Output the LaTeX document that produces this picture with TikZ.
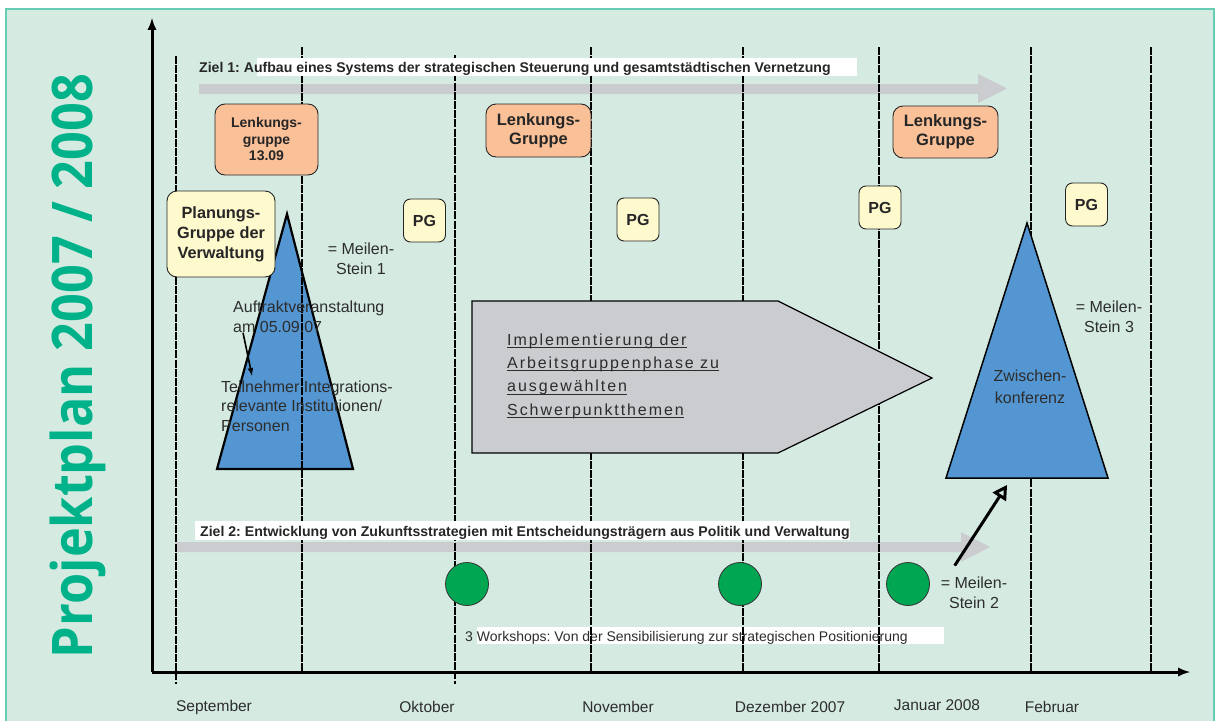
\documentclass[tikz,border=0pt]{standalone}
\usepackage{fontspec}
\setmainfont{Liberation Sans}
\newfontfamily\titelfont{Open Sans}
\newfontfamily\sperrfont[LetterSpace=12]{Liberation Sans}
\usetikzlibrary{positioning,shapes,arrows}

\newcommand\setfs[2]{\fontsize{#1}{#2}\selectfont}
\newcommand\unterstr[1]{\setbox0\hbox{#1}\rlap{\rule[-3pt]{\wd0}{1.2pt}}\box0}

\definecolor{hgfill}{RGB}{213,235,226}
\definecolor{hglinie}{RGB}{100,205,180}
\definecolor{titelgruen}{RGB}{0,178,137}
\definecolor{lenkfill}{RGB}{250,192,152}
\definecolor{pgfill}{RGB}{255,249,206}
\definecolor{dreieck}{RGB}{83,150,210}
\definecolor{zielgrau}{RGB}{203,204,207}
\definecolor{kreisgruen}{RGB}{0,166,81}
\definecolor{txtgrau}{RGB}{45,45,45}

\begin{document}
\frenchspacing
\begin{tikzpicture}[x=1pt,y=-1pt,
  lenk/.style={draw=black!85,line width=0.9,fill=lenkfill,rounded corners=10pt,align=center,text=black!85,inner sep=0pt},
  planbox/.style={draw=black!85,line width=0.9,fill=pgfill,rounded corners=10pt,align=center,text=black!85,inner sep=0pt},
  pgbox/.style={draw=black!85,line width=0.9,fill=pgfill,rounded corners=7pt,minimum width=42pt,minimum height=43pt,inner sep=0pt,text=black!85,font=\bfseries\setfs{16}{19}},
  monat/.style={line width=2.6,dash pattern=on 8pt off 1.2pt},
  txt/.style={text=txtgrau,inner sep=0pt,font=\setfs{16}{20}},
  ziel/.style={text=black!85,inner sep=0pt,font=\bfseries\setfs{14.1}{16}},
  monatlabel/.style={text=txtgrau,inner sep=0pt,font=\setfs{15.5}{17}},
  kreis/.style={circle,draw=black!80,line width=0.8,fill=kreisgruen,minimum size=43pt,inner sep=0pt}]
\useasboundingbox (0,0) rectangle (1220,720);
\fill[white] (0,0) rectangle (1220,720);
\draw[fill=hgfill,draw=hglinie,line width=1.5] (6,9) rectangle (1214,730);

\node[rotate=90,anchor=base,text=titelgruen,inner sep=0pt,font=\titelfont\bfseries\setfs{56}{60}] (titel) at (92,366) {\scalebox{0.9}[1]{Projektplan 2007 / 2008}};

\fill[zielgrau] (199,84) -- (978,84) -- (978,74) -- (1007,88.5) -- (978,103) -- (978,94) -- (199,94) -- cycle;
\fill[zielgrau] (175,542) -- (961,542) -- (961,532) -- (990,547) -- (961,562) -- (961,552) -- (175,552) -- cycle;

\draw[line width=2.2,fill=dreieck] (287,214) -- (353,469) -- (217,469) -- cycle;

\fill[white] (477,627) rectangle (944,644);
\node[txt,anchor=base west,font=\setfs{14}{17}] (workshops) at (465,641) {3 Workshops: Von der Sensibilisierung zur strategischen Positionierung};

\draw[monat] (176,56) -- (176,684);
\draw[monat] (302,47) -- (302,672);
\draw[monat] (455,55) -- (455,684);
\draw[monat] (591,47) -- (591,672);
\draw[monat,line width=2] (743,47) -- (743,672);
\draw[monat,line width=2] (879,47) -- (879,672);
\draw[monat] (1031,47) -- (1031,672);
\draw[monat] (1151,47) -- (1151,672);

\coordinate (ursprung) at (152,672);
\draw[line width=3,-latex] (ursprung) -- (152,18);
\draw[line width=3,-latex] (ursprung) -- (1190,672);

\fill[white] (257,58) rectangle (857,76);
\node[ziel,anchor=base west] (ziel1) at (199,72) {Ziel 1: Aufbau eines Systems der strategischen Steuerung und gesamtstädtischen Vernetzung};
\fill[white] (195,521) rectangle (850,540);
\node[ziel,anchor=base west] (ziel2) at (200,536) {Ziel 2: Entwicklung von Zukunftsstrategien mit Entscheidungsträgern aus Politik und Verwaltung};

\node[lenk,minimum width=103pt,minimum height=71pt,font=\bfseries\setfs{14}{16.5}] (lenk1) at (266.5,139.5) {Lenkungs-\\gruppe\\13.09};
\node[lenk,minimum width=105pt,minimum height=53pt,font=\bfseries\setfs{16.5}{19}] (lenk2) at (538.5,130.5) {Lenkungs-\\Gruppe};
\node[lenk,minimum width=105pt,minimum height=52pt,font=\bfseries\setfs{16.5}{19}] (lenk3) at (945.5,132) {Lenkungs-\\Gruppe};
\node[planbox,minimum width=108pt,minimum height=86pt,font=\bfseries\setfs{16.3}{20}] (plan) at (221,234) {Planungs-\\Gruppe der\\Verwaltung};

\node[pgbox] (pg1) at (424.5,220.5) {PG};
\node[pgbox] (pg2) at (638,219.5) {PG};
\node[pgbox] (pg3) at (880,207.5) {PG};
\node[pgbox] (pg4) at (1086.5,204.5) {PG};

\draw[line width=1.2,fill=zielgrau] (472,301) -- (778,301) -- (932,378) -- (778,453) -- (472,453) -- cycle;
\node[anchor=west,align=left,inner sep=0pt,text=txtgrau,font=\sperrfont\setfs{16}{23.3}] (impl) at (507,376) {\unterstr{Implementierung der}\\\unterstr{Arbeitsgruppenphase zu}\\\unterstr{ausgewählten}\\\unterstr{Schwerpunktthemen}};

\draw[line width=1.5,fill=dreieck] (1027,223) -- (1108,478) -- (946,478) -- cycle;

\node[kreis] (ws1) at (467,584) {};
\node[kreis] (ws2) at (740,584) {};
\node[kreis] (ws3) at (908,584) {};

\node[txt,align=center] (ms1) at (361,258.4) {= Meilen-\\Stein 1};
\node[txt,align=center] (ms2) at (974,592.7) {= Meilen-\\Stein 2};
\node[txt,align=center] (ms3) at (1109,316.7) {= Meilen-\\Stein 3};
\node[txt,anchor=west,align=left] (auftakt) at (233,316.6) {Auftraktveranstaltung\\am 05.09.07};
\node[txt,anchor=west,align=left,font=\setfs{16}{19.5}] (teiln) at (221,406.2) {Teilnehmer Integrations-\\relevante Institutionen/\\Personen};
\node[txt,align=center,font=\setfs{16}{22}] (zwk) at (1030,386.7) {Zwischen-\\konferenz};

\coordinate (zwkfuss) at (1007,485);
\draw[line width=1.6,-latex] ([shift={(10,0)}]auftakt.south west) -- ([shift={(31,-5)}]teiln.north west);
\draw[line width=3,-open triangle 60] ([shift={(14,-11)}]ms2.north west) -- (zwkfuss);

\node[monatlabel] (sep) at (214,707) {September};
\node[monatlabel] (okt) at (427,707) {Oktober};
\node[monatlabel] (nov) at (618,707) {November};
\node[monatlabel] (dez) at (790,707) {Dezember 2007};
\node[monatlabel] (jan) at (937,705) {Januar 2008};
\node[monatlabel] (feb) at (1052,707) {Februar};
\end{tikzpicture}
\end{document}
